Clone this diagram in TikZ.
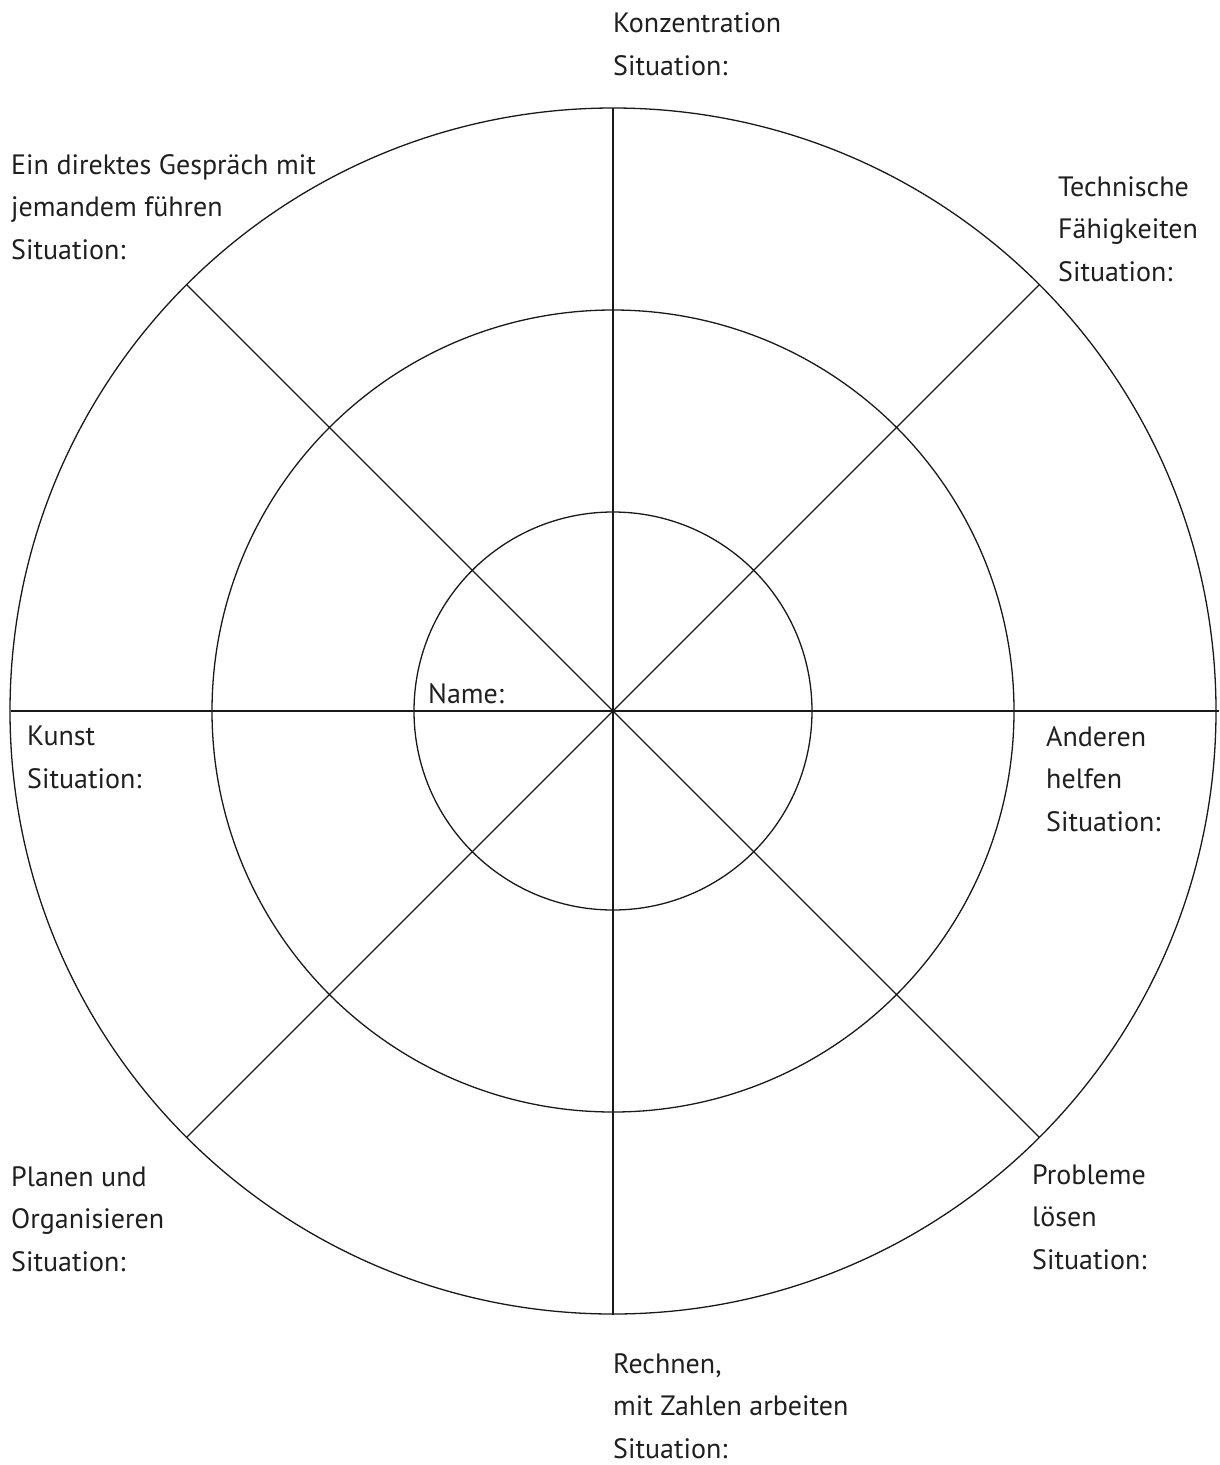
\documentclass[tikz,border=0pt]{standalone}
\usepackage{fontspec}
\usetikzlibrary{calc}
\setmainfont{PT Sans}
\begin{document}
\begin{tikzpicture}[x=1pt,y=-1pt,
  ring/.style={line width=1.3pt,draw=black!90},
  lbl/.style={anchor=base west,inner sep=0pt,align=left,font=\fontsize{28}{42.5}\selectfont,text=black!88}]
\useasboundingbox (0,0) rectangle (1219,1465);
\coordinate (c) at (613,711);
\draw[ring] (c) circle[radius=603];
\draw[ring] (c) circle[radius=401];
\draw[ring] (c) circle[radius=199];
\draw[ring] (613,108) -- (613,1315);
\draw[ring] (11,711) -- (1219,711);
\draw[ring] ($(c)+(45:603)$) -- ($(c)+(225:603)$);
\draw[ring] ($(c)+(135:603)$) -- ($(c)+(315:603)$);
\node[lbl] (konz) at (613,75) {Konzentration\\Situation:};
\node[lbl] (gespr) at (11,259) {Ein direktes Gespräch mit\\jemandem führen\\Situation:};
\node[lbl] (tech) at (1058,281) {Technische\\Fähigkeiten\\Situation:};
\node[lbl] (name) at (428,703) {Name:};
\node[lbl] (kunst) at (27,788) {Kunst\\Situation:};
\node[lbl] (andere) at (1046,831) {Anderen\\helfen\\Situation:};
\node[lbl] (plan) at (11,1271) {Planen und\\Organisieren\\Situation:};
\node[lbl] (probl) at (1032,1269) {Probleme\\lösen\\Situation:};
\node[lbl] (rech) at (613,1458) {Rechnen,\\mit Zahlen arbeiten\\Situation:};
\end{tikzpicture}
\end{document}
